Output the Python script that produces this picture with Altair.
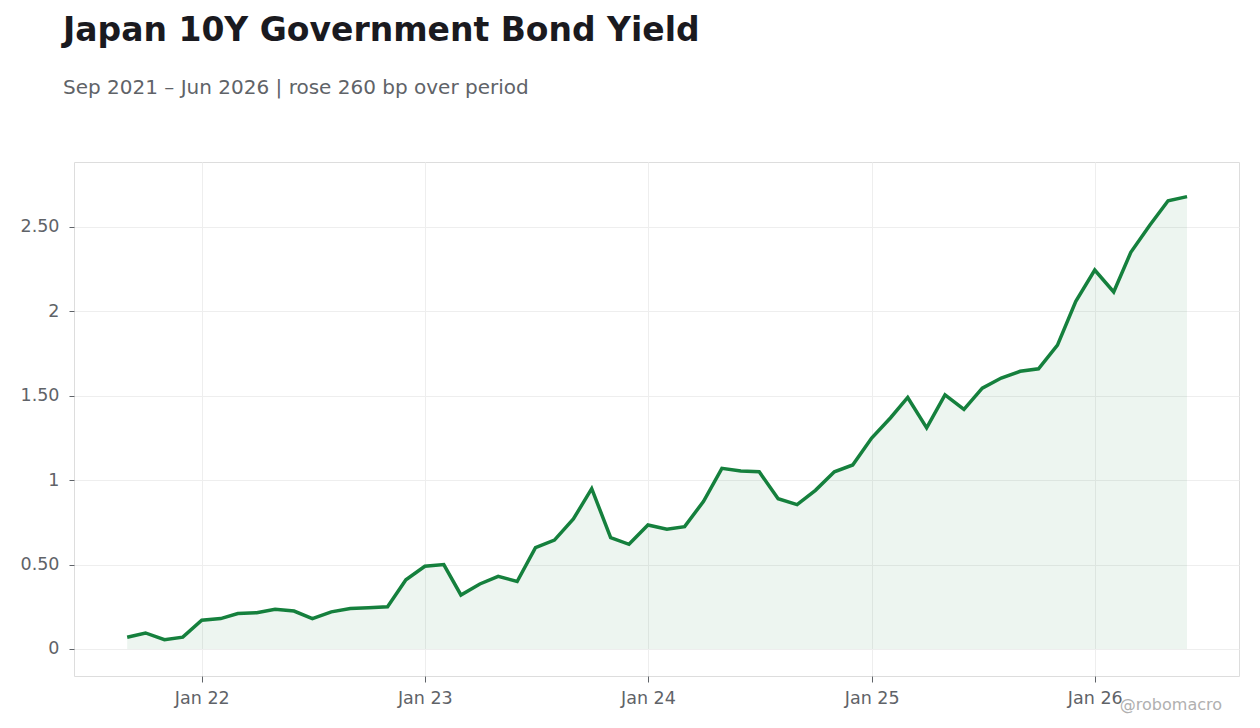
import altair as alt
import pandas as pd

months = pd.date_range("2021-09-01", "2026-06-01", freq="MS")

yields = [0.07, 0.095, 0.055, 0.07, 0.17, 0.18, 0.21, 0.215, 0.235, 0.225,
          0.18, 0.22, 0.24, 0.245, 0.25, 0.41, 0.49, 0.50, 0.32, 0.385,
          0.43, 0.40, 0.60, 0.645, 0.77, 0.95, 0.66, 0.62, 0.735, 0.71,
          0.725, 0.875, 1.07, 1.055, 1.05, 0.89, 0.855, 0.94, 1.05, 1.09,
          1.25, 1.37, 1.49, 1.31, 1.505, 1.42, 1.545, 1.605, 1.645, 1.66,
          1.80, 2.06, 2.245, 2.115, 2.35, 2.51, 2.655, 2.68]

df = pd.DataFrame({"date": months, "yield": yields})

green = "#15803d"
grey = "#5f6368"

title = alt.TitleParams(
    "Japan 10Y Government Bond Yield",
    subtitle="Sep 2021 – Jun 2026 | rose 260 bp over period",
    anchor="start", frame="group", dx=-11, offset=64,
    font="DejaVu Sans", fontSize=33, fontWeight="bold", color="#1a1a1f",
    subtitleFont="DejaVu Sans", subtitleFontSize=20, subtitleColor=grey,
    subtitlePadding=30)

x = alt.X("date:T", title=None,
          scale=alt.Scale(domain=["2021-06-06", "2026-08-25"]),
          axis=alt.Axis(format="%b %y", tickCount={"interval": "year", "step": 1},
                        labelFontSize=17.5, labelColor=grey, labelFont="DejaVu Sans",
                        domain=False, tickColor=grey, tickSize=6, labelPadding=7,
                        gridColor="#eeeeee"))
y = alt.Y("yield:Q", title=None,
          scale=alt.Scale(domain=[-0.16, 2.885], nice=False, zero=False),
          axis=alt.Axis(values=[0, 0.5, 1, 1.5, 2, 2.5],
                        labelExpr="datum.value % 1 == 0 ? format(datum.value, 'd') : format(datum.value, '.2f')",
                        labelFontSize=17.5, labelColor=grey, labelFont="DejaVu Sans",
                        domain=False, tickColor=grey, tickSize=5, labelPadding=10,
                        gridColor="#eeeeee"))

base = alt.Chart(df, title=title)

area = base.mark_area(color=green, opacity=0.08).encode(x=x, y=y, y2=alt.datum(0))
line = base.mark_line(color=green, strokeWidth=3.5).encode(x=x, y=y)

credit = alt.Chart(pd.DataFrame({"t": ["@robomacro"]})).mark_text(
    align="right", baseline="middle", font="DejaVu Sans", fontSize=16, color="#b0b0b0"
).encode(text="t:N", x=alt.value(1148), y=alt.value(543))

chart = (area + line + credit).properties(
    width=1165, height=514,
    autosize=alt.AutoSizeParams(type="none"),
    padding={"left": 66, "top": 154, "right": 13, "bottom": 44},
).configure_view(stroke="#dddddd", strokeWidth=1)

chart.save("out.html", embed_options={"renderer": "svg", "actions": False})
